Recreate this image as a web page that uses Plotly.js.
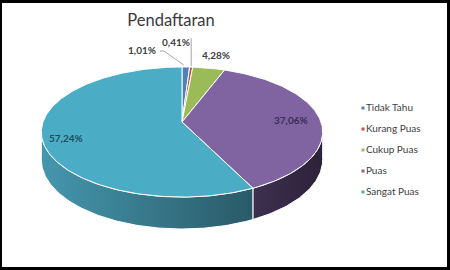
<!DOCTYPE html>
<html>
<head>
<meta charset="utf-8">
<script src="https://cdn.plot.ly/plotly-3.0.1.min.js"></script>
<style>
  html, body { margin: 0; padding: 0; background: #ffffff; }
  #chart { width: 450px; height: 270px; }
</style>
</head>
<body>
<div id="chart"></div>
<script>
// Survey results: "Pendaftaran"
const categories = ['Tidak Tahu', 'Kurang Puas', 'Cukup Puas', 'Puas', 'Sangat Puas'];
const percentages = [1.01, 0.41, 4.28, 37.06, 57.24];

// Slice styling
const topColors = ['#4F81BD', '#C0504D', '#9BBB59', '#8064A2', '#4BACC6'];
const sideGradients = [
  ['#3d6494', '#2c4a70'],
  ['#963e3c', '#6e2d2c'],
  ['#7a9346', '#5a6c33'],
  ['#3e3050', '#2c2239'],
  ['#4597ae', '#2a5a68']
];
const labelColors = ['#404040', '#404040', '#404040', '#3a2c56', '#1f4d5f'];
// inside labels: radius fraction; outside labels: pixel offset from rim
const labelStyle = [
  { outside: true, dx: -44, dy: -17, leader: 'bent' },
  { outside: true, dx: -15, dy: -25, leader: 'vertical' },
  { outside: true, dx: 7, dy: -13 },
  { outside: false, r: 0.79, dy: 0 },
  { outside: false, r: 0.83, dy: 4 }
];

// Pie geometry (pixel space of the plot)
const CX = 182, CY = 122, RX = 139, RY = 63.5, PERSP = 0.154, DEPTH = 27;
const FONT = "Lato, 'Open Sans', sans-serif";

function proj(r, phiDeg, drop) {
  const p = phiDeg * Math.PI / 180;
  const X = r * Math.sin(p), Z = r * Math.cos(p);
  const w = 1 / (1 + PERSP * Z);
  return [CX + RX * X * w, CY - RY * Z * w + DEPTH * drop * w];
}

function arc(a, b, drop) {
  const pts = [];
  const n = Math.max(2, Math.ceil(Math.abs(b - a) / 1));
  for (let i = 0; i <= n; i++) pts.push(proj(1, a + (b - a) * i / n, drop));
  return pts;
}

// slice angles, clockwise from 12 o'clock
const total = percentages.reduce((s, v) => s + v, 0);
const starts = [], ends = [];
let acc = 0;
percentages.forEach(v => {
  starts.push(acc / total * 360);
  acc += v;
  ends.push(acc / total * 360);
});

// silhouette of the side wall
const phiR = Math.acos(-PERSP) * 180 / Math.PI;
const phiL = 360 - phiR;

const traces = [];

// side walls
percentages.forEach((v, i) => {
  const a = Math.max(starts[i], phiR), b = Math.min(ends[i], phiL);
  if (a >= b) return;
  const top = arc(a, b, 0);
  const bottom = arc(b, a, 1);
  const pts = top.concat(bottom);
  pts.push(top[0]);
  traces.push({
    type: 'scatter', mode: 'lines', fill: 'toself',
    x: pts.map(p => p[0]), y: pts.map(p => p[1]),
    line: { color: '#ffffff', width: 1 },
    fillcolor: sideGradients[i][1],
    fillgradient: { type: 'horizontal', colorscale: [[0, sideGradients[i][0]], [1, sideGradients[i][1]]] },
    hoverinfo: 'skip', showlegend: false
  });
});

// top faces
percentages.forEach((v, i) => {
  const pts = [[CX, CY]].concat(arc(starts[i], ends[i], 0));
  pts.push([CX, CY]);
  traces.push({
    type: 'scatter', mode: 'lines', fill: 'toself',
    x: pts.map(p => p[0]), y: pts.map(p => p[1]),
    line: { color: '#ffffff', width: 1 },
    fillcolor: topColors[i],
    hoverinfo: 'skip', showlegend: false
  });
});

// data labels
const fmt = v => v.toFixed(2).replace('.', ',') + '%';
const annotations = [];
percentages.forEach((v, i) => {
  const mid = (starts[i] + ends[i]) / 2;
  const s = labelStyle[i];
  let lx, ly;
  if (s.outside) {
    const rim = proj(1, mid, 0);
    lx = rim[0] + s.dx; ly = rim[1] + s.dy;
    if (s.leader === 'bent') {
      const tx = lx + 18, ty = ly + 1;
      traces.push({
        type: 'scatter', mode: 'lines',
        x: [tx, tx + 4, rim[0] - 2], y: [ty, ty, rim[1] - 2],
        line: { color: '#a6a6a6', width: 1 }, hoverinfo: 'skip', showlegend: false
      });
    } else if (s.leader === 'vertical') {
      traces.push({
        type: 'scatter', mode: 'lines',
        x: [rim[0], rim[0]], y: [ly - 4, rim[1] - 1],
        line: { color: '#a6a6a6', width: 1 }, hoverinfo: 'skip', showlegend: false
      });
    }
  } else {
    const p = proj(s.r, mid, 0);
    lx = p[0]; ly = p[1] + s.dy;
  }
  annotations.push({
    x: lx, y: ly, xref: 'x', yref: 'y', showarrow: false,
    text: '<b>' + fmt(v) + '</b>',
    font: { family: FONT, size: 10, color: labelColors[i] },
    xanchor: 'center', yanchor: 'middle'
  });
});

// legend
const LEG_X = 363, LEG_TOP = 108, LEG_STEP = 21;
traces.push({
  type: 'scatter', mode: 'markers+text',
  x: categories.map(() => LEG_X),
  y: categories.map((c, i) => LEG_TOP + i * LEG_STEP),
  text: categories,
  textposition: 'middle right',
  textfont: { family: FONT, size: 10, color: '#404040' },
  marker: { symbol: 'square', size: 3, color: topColors },
  hoverinfo: 'skip', showlegend: false, cliponaxis: false
});

// frame
const frame = [
  [0, 0, 450, 3], [0, 0, 2, 270], [447, 0, 450, 270], [0, 267, 450, 270]
].map(r => ({
  type: 'rect', xref: 'x', yref: 'y', x0: r[0], y0: r[1], x1: r[2], y1: r[3],
  fillcolor: '#000000', line: { width: 0 }, layer: 'above'
}));

const layout = {
  width: 450, height: 270,
  margin: { l: 0, r: 0, t: 0, b: 0 },
  paper_bgcolor: '#ffffff', plot_bgcolor: '#ffffff',
  title: {
    text: 'Pendaftaran',
    font: { family: FONT, size: 16.5, color: '#3a3a3a' },
    x: 171 / 450, xanchor: 'center', y: 1 - 20 / 270, yanchor: 'middle'
  },
  xaxis: { range: [0, 450], visible: false, fixedrange: true },
  yaxis: { range: [270, 0], visible: false, fixedrange: true },
  showlegend: false,
  annotations: annotations,
  shapes: frame
};

Plotly.newPlot('chart', traces, layout, { staticPlot: true, displayModeBar: false });
</script>
</body>
</html>
